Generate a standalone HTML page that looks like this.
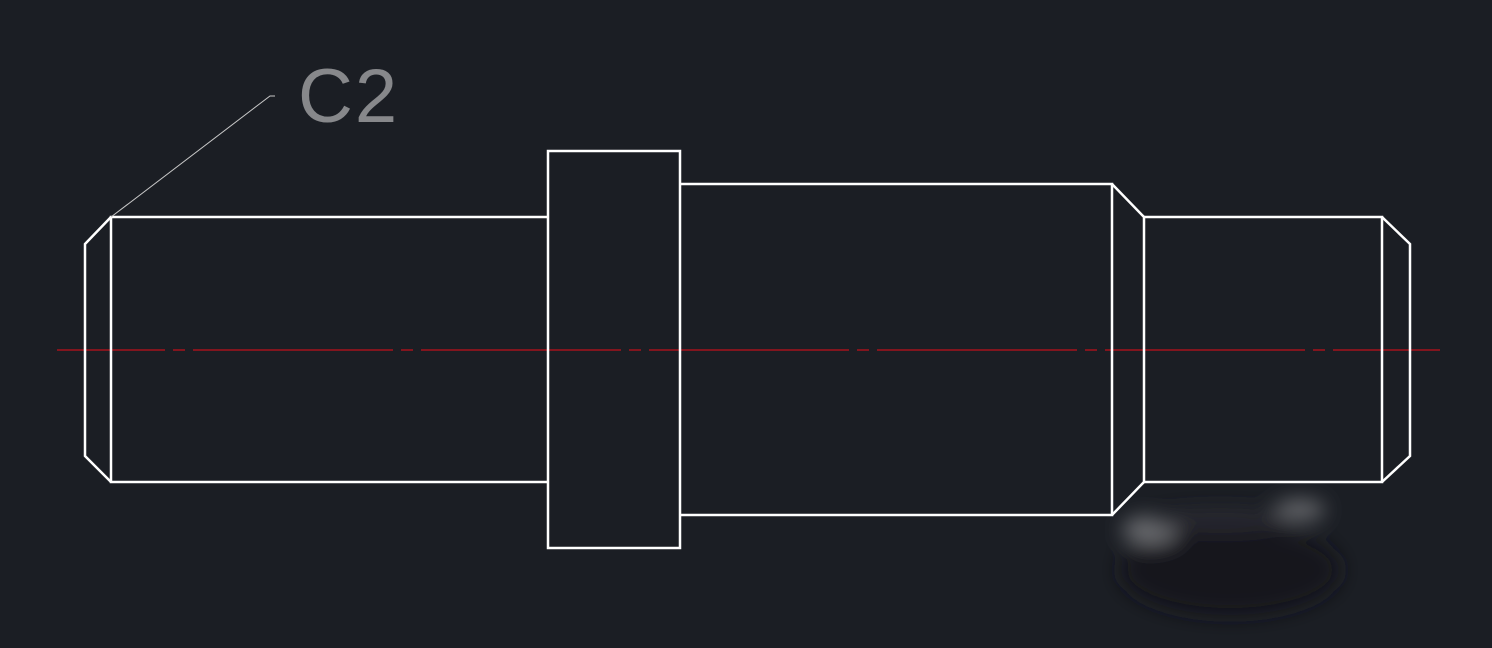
<!DOCTYPE html>
<html><head><style>html,body{margin:0;padding:0;background:#1b1e24;}svg{display:block}</style></head>
<body>
<svg width="1492" height="648" viewBox="0 0 1492 648" xmlns="http://www.w3.org/2000/svg">
<rect width="1492" height="648" fill="#1b1e24"/>
<defs><filter id="b" x="-50%" y="-50%" width="200%" height="200%"><feGaussianBlur stdDeviation="10"/></filter></defs>
<g filter="url(#b)">
<ellipse cx="1230" cy="570" rx="110" ry="45" fill="#16181d"/>
<ellipse cx="1150" cy="530" rx="28" ry="14" fill="#6a6c70"/>
<ellipse cx="1300" cy="510" rx="25" ry="10" fill="#6a6c70"/>
<ellipse cx="1220" cy="520" rx="70" ry="10" fill="#2a2c31"/>
</g>
<line x1="57" y1="350" x2="1440" y2="350" stroke="#c0101a" stroke-width="1.3" stroke-dasharray="200 8 12 8" stroke-dashoffset="92"/>
<g fill="none" stroke="#fff" stroke-width="2.5">
<polyline points="548,217 111,217 111,482 548,482"/>
<polyline points="111,217 85,244 85,456 111,482"/>
<rect x="548" y="151" width="132" height="397"/>
<polyline points="680,184 1112,184 1112,515 680,515"/>
<polyline points="1112,184 1144,217 1144,482 1112,515"/>
<polyline points="1144,217 1382,217 1382,482 1144,482"/>
<polyline points="1382,217 1410,244 1410,456 1382,482"/>
</g>
<polyline points="111,217 270,96 275,96" fill="none" stroke="#c8c8c8" stroke-width="1"/>
<text x="298" y="122" font-family="Liberation Sans, sans-serif" font-size="76" fill="#e0e0e0" fill-opacity="0.55" letter-spacing="2">C2</text>
</svg>
</body></html>
